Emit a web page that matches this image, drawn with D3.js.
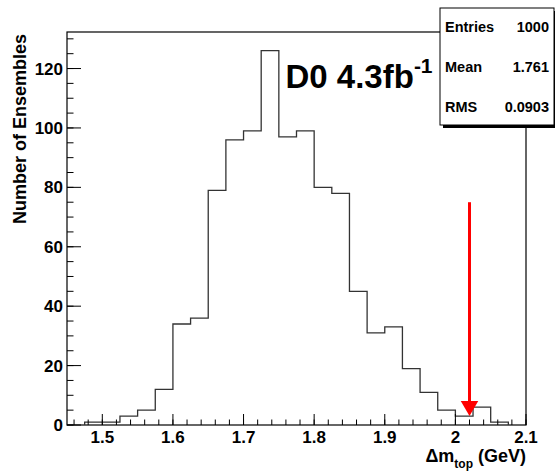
<!DOCTYPE html>
<html>
<head>
<meta charset="utf-8">
<script src="https://cdn.jsdelivr.net/npm/d3@7"></script>
<style>
  html, body { margin: 0; padding: 0; background: #fff; }
  svg { display: block; font-family: "Liberation Sans", Arial, sans-serif; }
</style>
</head>
<body>
<svg id="chart" width="555" height="472"></svg>
<script>
// ---- data ----
const binEdges = [1.475, 1.5, 1.525, 1.55, 1.575, 1.6, 1.625, 1.65, 1.675, 1.7, 1.725, 1.75,
                  1.775, 1.8, 1.825, 1.85, 1.875, 1.9, 1.925, 1.95, 1.975, 2.0, 2.025, 2.05, 2.075];
const binCounts = [1, 1, 3, 5, 12, 34, 36, 79, 96, 99, 126, 97, 99, 80, 78, 45, 31, 33, 19, 11, 5, 3, 6, 1];
const xMajorTicks = [1.5, 1.6, 1.7, 1.8, 1.9, 2.0, 2.1];
const xTickLabels = ["1.5", "1.6", "1.7", "1.8", "1.9", "2", "2.1"];
const yMajorTicks = [0, 20, 40, 60, 80, 100, 120];
const yTickLabels = ["0", "20", "40", "60", "80", "100", "120"];
const statsNames = ["Entries", "Mean", "RMS"];
const statsValues = ["1000", "1.761", "0.0903"];
const arrowX = 2.02;
const arrowTop = 75;
const arrowTip = 3;
const xDomain = [1.45, 2.1];
const yDomain = [0, 132.3];

// ---- layout ----
const frame = { left: 67, right: 526, top: 32, bottom: 425 };
const svg = d3.select("#chart");
const x = d3.scaleLinear().domain(xDomain).range([frame.left, frame.right]);
const y = d3.scaleLinear().domain(yDomain).range([frame.bottom, frame.top]);

// frame
svg.append("rect")
  .attr("x", frame.left).attr("y", frame.top)
  .attr("width", frame.right - frame.left).attr("height", frame.bottom - frame.top)
  .attr("fill", "none").attr("stroke", "#000").attr("stroke-width", 1.2);

// histogram step path
let pts = [[x(binEdges[0]), y(0)]];
binCounts.forEach((c, i) => {
  pts.push([x(binEdges[i]), y(c)]);
  pts.push([x(binEdges[i + 1]), y(c)]);
});
pts.push([x(binEdges[binEdges.length - 1]), y(0)]);
svg.append("path")
  .attr("d", d3.line()(pts))
  .attr("fill", "none").attr("stroke", "#333").attr("stroke-width", 1.3);

// x axis ticks (inside)
const xMinor = d3.range(1.46, 2.1001, 0.02);
const xAxisG = svg.append("g").attr("transform", `translate(0,${frame.bottom})`);
xAxisG.selectAll("line.minor").data(xMinor).join("line")
  .attr("x1", d => x(d)).attr("x2", d => x(d))
  .attr("y1", 0).attr("y2", -5.5).attr("stroke", "#000").attr("stroke-width", 1);
xAxisG.selectAll("line.major").data(xMajorTicks).join("line")
  .attr("x1", d => x(d)).attr("x2", d => x(d))
  .attr("y1", 0).attr("y2", -11).attr("stroke", "#000").attr("stroke-width", 1);
xAxisG.selectAll("text").data(xMajorTicks).join("text")
  .attr("x", d => x(d)).attr("y", 17.5)
  .attr("text-anchor", "middle").attr("font-size", 17).attr("font-weight", "bold")
  .text((d, i) => xTickLabels[i]);

// y axis ticks (inside)
const yMinor = d3.range(0, 131, 5);
const yAxisG = svg.append("g").attr("transform", `translate(${frame.left},0)`);
yAxisG.selectAll("line.minor").data(yMinor).join("line")
  .attr("x1", 0).attr("x2", 6.5)
  .attr("y1", d => y(d)).attr("y2", d => y(d)).attr("stroke", "#000").attr("stroke-width", 1);
yAxisG.selectAll("line.major").data(yMajorTicks).join("line")
  .attr("x1", 0).attr("x2", 14)
  .attr("y1", d => y(d)).attr("y2", d => y(d)).attr("stroke", "#000").attr("stroke-width", 1);
yAxisG.selectAll("text").data(yMajorTicks).join("text")
  .attr("x", -4).attr("y", d => y(d)).attr("dy", "0.36em")
  .attr("text-anchor", "end").attr("font-size", 17).attr("font-weight", "bold")
  .text((d, i) => yTickLabels[i]);

// y axis title
svg.append("text")
  .attr("transform", `translate(25.5,${frame.top + 2}) rotate(-90)`)
  .attr("text-anchor", "end").attr("font-size", 18).attr("font-weight", "bold")
  .text("Number of Ensembles");

// x axis title
const xt = svg.append("text")
  .attr("x", frame.right).attr("y", 461.5)
  .attr("text-anchor", "end").attr("font-size", 18).attr("font-weight", "bold");
xt.append("tspan").text("\u0394m");
xt.append("tspan").attr("font-size", 12).attr("dy", 6).text("top");
xt.append("tspan").attr("dy", -6).text(" (GeV)");

// D0 label
const lbl = svg.append("text")
  .attr("x", 285.5).attr("y", 87.5)
  .attr("font-size", 33).attr("font-weight", "bold");
lbl.append("tspan").text("D0 4.3fb");
lbl.append("tspan").attr("font-size", 21).attr("dy", -14.5).text("-1");

// red arrow
const ax = x(arrowX);
const tipY = y(arrowTip);
const headLen = 15, headW = 17.5;
svg.append("line")
  .attr("x1", ax).attr("x2", ax)
  .attr("y1", y(arrowTop)).attr("y2", tipY - headLen + 1)
  .attr("stroke", "#ff0000").attr("stroke-width", 3);
svg.append("path")
  .attr("d", `M${ax - headW / 2},${tipY - headLen} L${ax + headW / 2},${tipY - headLen} L${ax},${tipY} Z`)
  .attr("fill", "#ff0000");

// stats box
const box = { x: 440, y: 8, w: 114, h: 117 };
svg.append("rect")
  .attr("x", box.x + 3).attr("y", box.y + 3).attr("width", box.w).attr("height", box.h)
  .attr("fill", "#000");
svg.append("rect")
  .attr("x", box.x).attr("y", box.y).attr("width", box.w).attr("height", box.h)
  .attr("fill", "#fff").attr("stroke", "#000").attr("stroke-width", 1);
const rowBase = [31.5, 72, 111.5];
statsNames.forEach((n, i) => {
  svg.append("text").attr("x", box.x + 5).attr("y", rowBase[i])
    .attr("font-size", 14.5).attr("font-weight", "bold").text(n);
  svg.append("text").attr("x", box.x + box.w - 5).attr("y", rowBase[i])
    .attr("text-anchor", "end").attr("font-size", 14.5).attr("font-weight", "bold").text(statsValues[i]);
});
</script>
</body>
</html>
